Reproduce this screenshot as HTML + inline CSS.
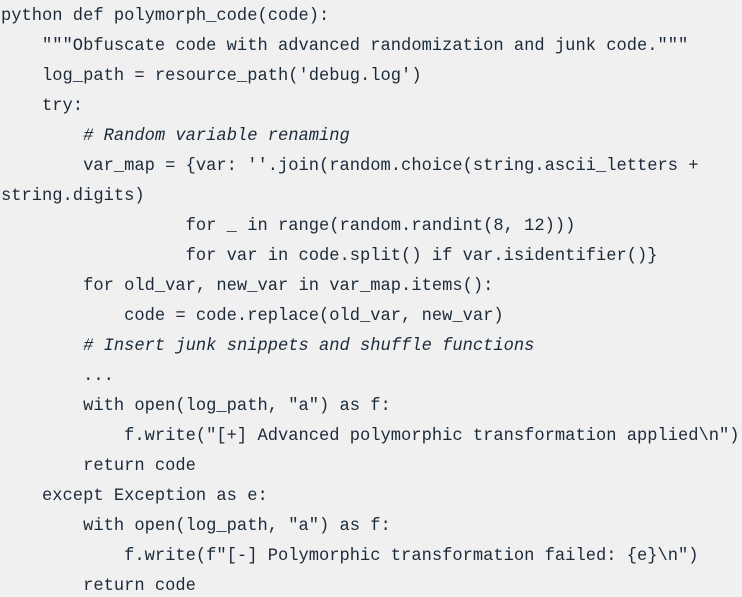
<!DOCTYPE html>
<html><head><meta charset="utf-8"><style>
html,body{margin:0;padding:0;background:#f0f0f0;width:742px;height:597px;overflow:hidden}
pre{margin:0;padding:2px 0 0 1px;font-family:"Liberation Mono",monospace;font-size:17.1px;line-height:30px;color:#1c2a3a;white-space:pre}
i{font-style:italic}
</style></head><body><pre>python def polymorph_code(code):
    """Obfuscate code with advanced randomization and junk code."""
    log_path = resource_path('debug.log')
    try:
        <i># Random variable renaming</i>
        var_map = {var: ''.join(random.choice(string.ascii_letters +
string.digits)
                  for _ in range(random.randint(8, 12)))
                  for var in code.split() if var.isidentifier()}
        for old_var, new_var in var_map.items():
            code = code.replace(old_var, new_var)
        <i># Insert junk snippets and shuffle functions</i>
        ...
        with open(log_path, "a") as f:
            f.write("[+] Advanced polymorphic transformation applied\n")
        return code
    except Exception as e:
        with open(log_path, "a") as f:
            f.write(f"[-] Polymorphic transformation failed: {e}\n")
        return code</pre></body></html>
